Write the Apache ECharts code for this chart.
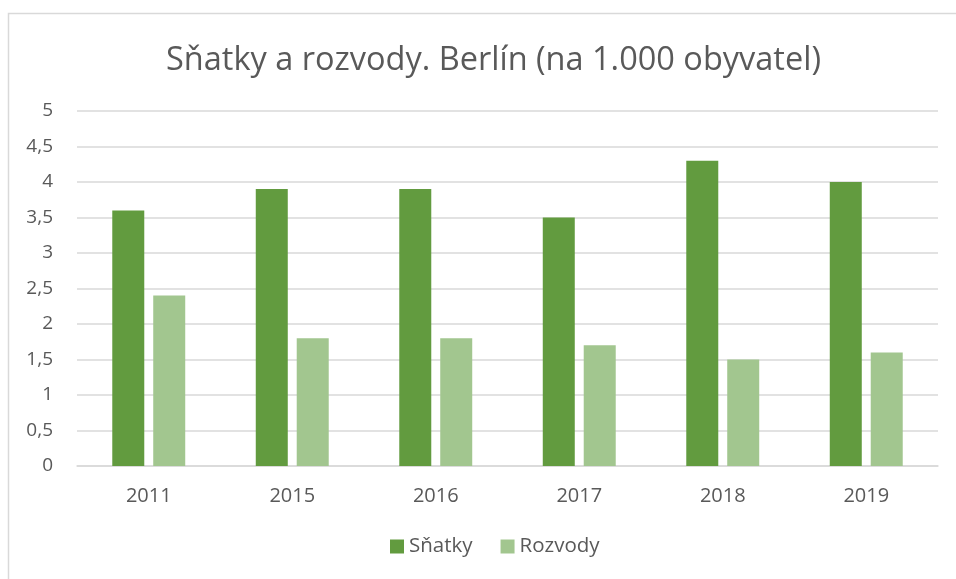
<!DOCTYPE html>
<html>
<head>
<meta charset="utf-8">
<script src="https://cdn.jsdelivr.net/npm/echarts@6/dist/echarts.min.js"></script>
<style>
  html, body { margin: 0; padding: 0; background: #fff; }
  #chart { width: 956px; height: 579px; }
</style>
</head>
<body>
<div id="chart"></div>
<script>
// data
const years = ['2011', '2015', '2016', '2017', '2018', '2019'];
const snatky = [3.6, 3.9, 3.9, 3.5, 4.3, 4.0];
const rozvody = [2.4, 1.8, 1.8, 1.7, 1.5, 1.6];

const textColor = '#595959';
const fontFam = '"Open Sans", "DejaVu Sans", sans-serif';

const chartDom = document.getElementById('chart');
const myChart = echarts.init(chartDom, null, { renderer: 'canvas' });

const option = {
  backgroundColor: '#fff',
  animation: false,
  textStyle: { fontFamily: fontFam, color: textColor },
  graphic: [
    {
      // outer chart frame, runs off the right and bottom edges
      type: 'rect',
      left: 6, top: 11,
      shape: { width: 1000, height: 700 },
      style: { fill: 'none', stroke: '#d9d9d9', lineWidth: 1.5 },
      silent: true
    }
  ],
  title: {
    text: 'Sňatky a rozvody. Berlín (na 1.000 obyvatel)',
    left: 161,
    top: 39,
    textStyle: { fontFamily: fontFam, fontSize: 32.5, fontWeight: 'normal', color: textColor }
  },
  legend: {
    data: ['Sňatky', 'Rozvody'],
    bottom: 17,
    left: 385,
    itemWidth: 14,
    itemHeight: 14,
    itemGap: 28,
    icon: 'rect',
    textStyle: { fontFamily: fontFam, fontSize: 20.5, color: textColor }
  },
  grid: { left: 77, right: 18, top: 111, bottom: 113, containLabel: false },
  xAxis: {
    type: 'category',
    data: years,
    axisLine: { lineStyle: { color: '#d9d9d9', width: 1.5 } },
    axisTick: { show: false },
    axisLabel: { fontFamily: fontFam, fontSize: 20, color: textColor, margin: 20 }
  },
  yAxis: {
    type: 'value',
    min: 0,
    max: 5,
    interval: 0.5,
    axisLine: { show: false },
    axisTick: { show: false },
    splitLine: { lineStyle: { color: '#d9d9d9', width: 1.5 } },
    axisLabel: {
      fontFamily: fontFam, fontSize: 19, color: textColor, margin: 24,
      formatter: v => String(v).replace('.', ',')
    }
  },
  series: [
    {
      name: 'Sňatky',
      type: 'bar',
      data: snatky,
      barWidth: 32,
      barGap: '28%',
      itemStyle: { color: '#629b3f' }
    },
    {
      name: 'Rozvody',
      type: 'bar',
      data: rozvody,
      barWidth: 32,
      itemStyle: { color: '#a2c68f' }
    }
  ]
};

option && myChart.setOption(option);
</script>
</body>
</html>
